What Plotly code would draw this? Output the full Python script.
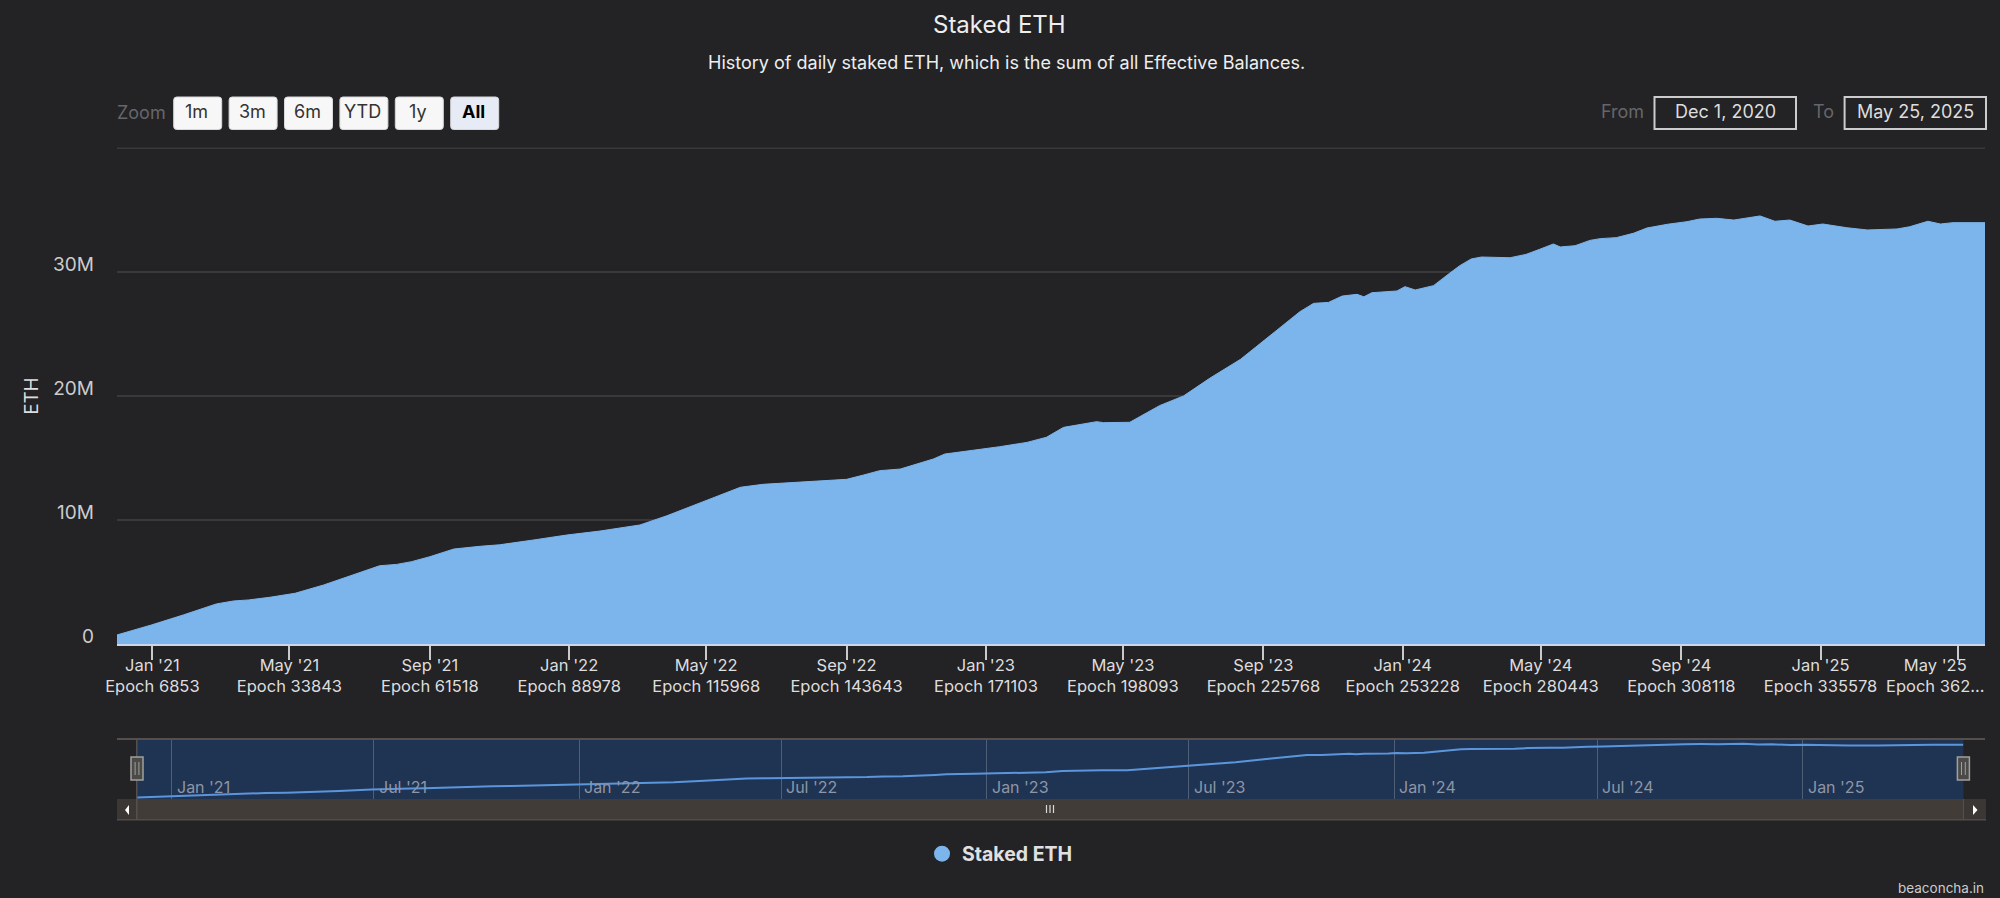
import plotly.graph_objects as go

# Daily staked ETH (millions of ETH)
dates = ["2020-12-01", "2020-12-31", "2021-01-28", "2021-02-26", "2021-03-13", "2021-03-26", "2021-04-14",
         "2021-05-06", "2021-05-31", "2021-06-29", "2021-07-19", "2021-08-03", "2021-08-16", "2021-09-01",
         "2021-09-22", "2021-10-15", "2021-11-01", "2021-12-01", "2021-12-30", "2022-01-28", "2022-03-04",
         "2022-03-27", "2022-04-23", "2022-05-10", "2022-05-31", "2022-06-20", "2022-07-13", "2022-08-12",
         "2022-09-01", "2022-09-16", "2022-09-30", "2022-10-18", "2022-11-16", "2022-11-26", "2022-12-21",
         "2023-01-13", "2023-02-06", "2023-02-23", "2023-03-10", "2023-03-24", "2023-04-08", "2023-04-14",
         "2023-05-07", "2023-06-02", "2023-06-23", "2023-07-16", "2023-08-12", "2023-09-13", "2023-10-03",
         "2023-10-15", "2023-10-28", "2023-11-09", "2023-11-22", "2023-11-28", "2023-12-05", "2023-12-27",
         "2024-01-03", "2024-01-12", "2024-01-28", "2024-02-11", "2024-02-20", "2024-03-01", "2024-03-10",
         "2024-04-04", "2024-04-18", "2024-04-30", "2024-05-12", "2024-05-18", "2024-05-31", "2024-06-13",
         "2024-06-22", "2024-07-06", "2024-07-21", "2024-08-02", "2024-08-20", "2024-09-06", "2024-09-17",
         "2024-10-02", "2024-10-17", "2024-11-09", "2024-11-22", "2024-12-05", "2024-12-21", "2025-01-03",
         "2025-01-24", "2025-02-11", "2025-03-09", "2025-03-20", "2025-04-05", "2025-04-16", "2025-04-27",
         "2025-05-25"]
staked_m = [0.73, 1.53, 2.34, 3.23, 3.47, 3.55, 3.77,
            4.09, 4.76, 5.70, 6.31, 6.42, 6.64, 7.04,
            7.66, 7.88, 8.00, 8.39, 8.79, 9.11, 9.60,
            10.32, 11.29, 11.94, 12.64, 12.88, 13.01, 13.15,
            13.28, 13.63, 13.98, 14.11, 14.92, 15.32, 15.62,
            15.91, 16.26, 16.67, 17.47, 17.69, 17.93, 17.85,
            17.88, 19.22, 20.00, 21.43, 22.96, 25.32, 26.80,
            27.47, 27.55, 28.06, 28.20, 28.00, 28.33, 28.47,
            28.82, 28.55, 28.90, 29.89, 30.51, 31.05, 31.21,
            31.15, 31.42, 31.83, 32.26, 32.02, 32.12, 32.55,
            32.69, 32.77, 33.12, 33.55, 33.85, 34.06, 34.27,
            34.33, 34.19, 34.52, 34.09, 34.19, 33.71, 33.87,
            33.57, 33.39, 33.47, 33.65, 34.09, 33.87, 33.98,
            33.98]
staked = [v * 1e6 for v in staked_m]

tick_dates = ["2021-01-01", "2021-05-01", "2021-09-01", "2022-01-01", "2022-05-01", "2022-09-01", "2023-01-01",
              "2023-05-01", "2023-09-01", "2024-01-01", "2024-05-01", "2024-09-01", "2025-01-01", "2025-05-01"]
tick_months = ["Jan '21", "May '21", "Sep '21", "Jan '22", "May '22", "Sep '22", "Jan '23",
               "May '23", "Sep '23", "Jan '24", "May '24", "Sep '24", "Jan '25", "May '25"]
tick_epochs = ["6853", "33843", "61518", "88978", "115968", "143643", "171103",
               "198093", "225768", "253228", "280443", "308118", "335578", "362..."]

nav_dates = ["2021-01-01", "2021-07-01", "2022-01-01", "2022-07-01", "2023-01-01", "2023-07-01", "2024-01-01",
             "2024-07-01", "2025-01-01"]
nav_labels = ["Jan '21", "Jul '21", "Jan '22", "Jul '22", "Jan '23", "Jul '23", "Jan '24", "Jul '24", "Jan '25"]

y_ticks = [0, 10e6, 20e6, 30e6, 40e6]
y_labels = ["0", "10M", "20M", "30M", ""]
zoom_buttons = ["1m", "3m", "6m", "YTD", "1y", "All"]

W, H = 2000, 898
BG = "#232225"
BLUE = "#7cb5ec"
GRID = "#39383b"
FONT = "Inter"


def px(x):
    return x / W


def py(y):
    return 1 - y / H


def box(x0, y0, x1, y1, fill, line=None, width=1, layer="above"):
    return dict(type="rect", xref="paper", yref="paper", x0=px(x0), x1=px(x1), y0=py(y0), y1=py(y1),
                fillcolor=fill, line=dict(color=line, width=width if line else 0), layer=layer)


def rounded(x0, y0, x1, y1, r, fill, line):
    p = (f"M {px(x0 + r)} {py(y0)} L {px(x1 - r)} {py(y0)} Q {px(x1)} {py(y0)} {px(x1)} {py(y0 + r)} "
         f"L {px(x1)} {py(y1 - r)} Q {px(x1)} {py(y1)} {px(x1 - r)} {py(y1)} "
         f"L {px(x0 + r)} {py(y1)} Q {px(x0)} {py(y1)} {px(x0)} {py(y1 - r)} "
         f"L {px(x0)} {py(y0 + r)} Q {px(x0)} {py(y0)} {px(x0 + r)} {py(y0)} Z")
    return dict(type="path", xref="paper", yref="paper", path=p, fillcolor=fill, line=dict(color=line, width=1))


def triangle(points, fill):
    p = "M " + " L ".join(f"{px(a)} {py(b)}" for a, b in points) + " Z"
    return dict(type="path", xref="paper", yref="paper", path=p, fillcolor=fill, line=dict(width=0))


def label(text, x, y, size, color, anchor="center", weight=None):
    return dict(text=text, xref="paper", yref="paper", x=px(x), y=py(y), xanchor=anchor, yanchor="middle",
                showarrow=False, font=dict(family=FONT, size=size, color=color, weight=weight))


fig = go.Figure()

# main chart
fig.add_trace(go.Scatter(x=dates, y=staked, mode="lines", fill="tozeroy", fillcolor=BLUE,
                         line=dict(color=BLUE, width=1), name="Staked ETH", showlegend=False))
# navigator
fig.add_trace(go.Scatter(x=dates, y=staked, mode="lines", xaxis="x2", yaxis="y2",
                         line=dict(color="#5b96dc", width=2), showlegend=False, hoverinfo="skip"))
# legend entry only, round marker like the original
fig.add_trace(go.Scatter(x=[None], y=[None], mode="markers", name="Staked ETH",
                         marker=dict(color=BLUE, size=18)))

shapes = []
annotations = []

# top grid line at 40M, plotly leaves it out at the edge of the range
shapes.append(box(117, 147.5, 1985, 149, GRID, layer="below"))

# navigator band and scrollbar
shapes.append(box(137, 739, 1963.4, 799, "#1f3352", layer="below"))
shapes.append(box(117, 738, 1985, 740, "#55504d"))
shapes.append(box(137, 799, 1963.4, 819, "#423c38"))
shapes.append(box(117, 799, 137, 819, "#3b3734"))
shapes.append(box(1963.4, 799, 1986, 819, "#3b3734"))
shapes.append(box(117, 819, 1986, 820.5, "#524c48"))
shapes.append(box(136, 739, 137.5, 820, "#55504d"))
shapes.append(box(1962.9, 799, 1964, 820, "#55504d"))
shapes.append(triangle([(129, 805), (125, 810), (129, 815)], "#ffffff"))
shapes.append(triangle([(1973, 805), (1977.5, 810), (1973, 815)], "#ffffff"))
for gx in (1046.5, 1050, 1053.5):
    shapes.append(box(gx - 0.6, 805, gx + 0.6, 813, "#d8d8d8"))
for hx in (137, 1963.4):
    shapes.append(box(hx - 6, 757, hx + 6, 780, "#4a4a48", "#a3a09c", 1.5))
    shapes.append(box(hx - 2.4, 762, hx - 1.4, 775, "#a3a09c"))
    shapes.append(box(hx + 1.4, 762, hx + 2.4, 775, "#a3a09c"))

# navigator date labels sit just right of their grid lines
for d, t in zip(nav_dates, nav_labels):
    annotations.append(dict(text=t, xref="x2", yref="paper", x=d, y=py(787), xanchor="left", yanchor="middle",
                            xshift=3, showarrow=False, font=dict(family=FONT, size=16, color="#8d96a6")))

# zoom buttons
annotations.append(label("Zoom", 115, 112, 18, "#66666a", "left"))
for i, name in enumerate(zoom_buttons):
    x0 = 173.7 + i * 55.4
    active = name == "All"
    shapes.append(rounded(x0, 97, x0 + 48, 129.5, 3, "#e6ebf5" if active else "#f7f7f7", "#d8d8dc"))
    annotations.append(label(name, x0 + 23, 111, 18, "#000000" if active else "#333333",
                             weight=700 if active else None))

# date range boxes
annotations.append(label("From", 1645.5, 111, 18, "#66666a", "right"))
annotations.append(label("To", 1836, 111, 18, "#66666a", "right"))
shapes.append(box(1654.5, 97, 1796, 129, BG, "#cccccc", 2))
shapes.append(box(1844.6, 97, 1986, 129, BG, "#cccccc", 2))
annotations.append(label("Dec 1, 2020", 1725, 111, 18, "#dddddd"))
annotations.append(label("May 25, 2025", 1915, 111, 18, "#dddddd"))

# title, subtitle, credit
annotations.append(label("Staked ETH", 999, 25, 24, "#eeeeee"))
annotations.append(label("History of daily staked ETH, which is the sum of all Effective Balances.", 1007, 62.5, 18,
                         "#eeeeee"))
annotations.append(label("beaconcha.in", 1986, 888, 13.5, "#cccccc", "right"))
# last tick label is pushed left so it fits, like the original
annotations.append(label(f"{tick_months[-1]}<br>Epoch {tick_epochs[-1]}", 1935, 675, 16.5, "#dddddd"))

fig.update_layout(
    width=W, height=H,
    margin=dict(l=0, r=0, t=0, b=0),
    paper_bgcolor=BG, plot_bgcolor=BG,
    font=dict(family=FONT, color="#dddddd"),
    shapes=shapes, annotations=annotations,
    showlegend=True,
    legend=dict(x=px(1000), y=py(854), xanchor="center", yanchor="middle", orientation="h",
                font=dict(family=FONT, size=19.5, color="#e0e0e3", weight=700), bgcolor="rgba(0,0,0,0)"),
    xaxis=dict(
        domain=[px(117), px(1985)], range=["2020-12-01", "2025-05-25"], anchor="y", automargin=False,
        tickvals=tick_dates,
        ticktext=[f"{m}<br>Epoch {e}" for m, e in zip(tick_months[:-1], tick_epochs[:-1])] + [""],
        ticks="outside", ticklen=14, tickwidth=2, tickcolor="#c9c9c9", ticklabelstandoff=-9,
        tickfont=dict(family=FONT, size=16.5, color="#dddddd"),
        showgrid=False, showline=True, linecolor="#ccd6eb", linewidth=2, zeroline=False,
    ),
    yaxis=dict(
        domain=[py(644), py(148)], range=[0, 40e6], anchor="x", automargin=False,
        tickvals=y_ticks, ticktext=y_labels,
        tickfont=dict(family=FONT, size=19, color="#cccccc"),
        ticklabelstandoff=22, ticklabelshift=-8,
        gridcolor=GRID, gridwidth=2, zeroline=False, showline=False, ticks="",
        title=dict(text="ETH", font=dict(family=FONT, size=18.5, color="#dddddd"), standoff=9),
    ),
    xaxis2=dict(
        domain=[px(137), px(1963.4)], range=["2020-12-01", "2025-05-25"], anchor="y2", automargin=False,
        tickvals=nav_dates, showticklabels=False,
        showgrid=True, gridcolor="#4f5f78", gridwidth=1, zeroline=False, showline=False, ticks="",
    ),
    yaxis2=dict(
        domain=[py(799), py(739)], range=[-0.2e6, 37.55e6], anchor="x2", automargin=False,
        showgrid=False, zeroline=False, showticklabels=False, ticks="",
    ),
)

fig.write_html("out.html", config={"displayModeBar": False}, post_script="document.body.style.margin = '0';")
